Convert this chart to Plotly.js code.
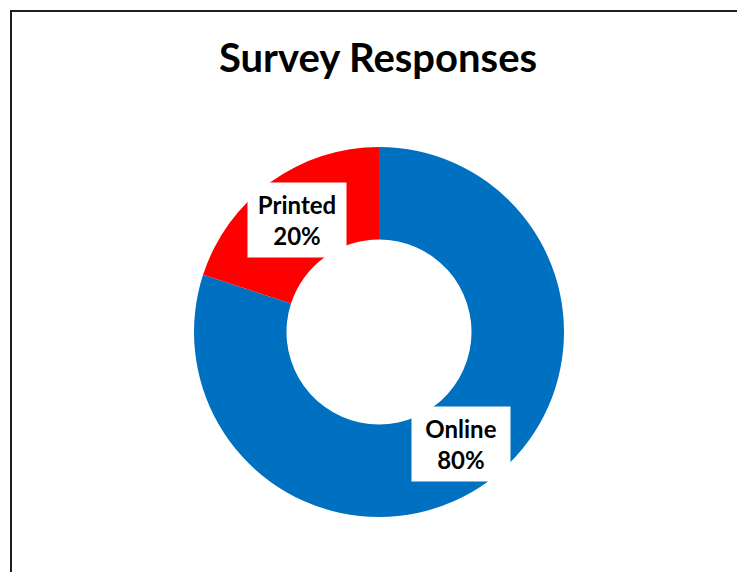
<!DOCTYPE html>
<html>
<head>
<meta charset="utf-8">
<script src="https://cdn.plot.ly/plotly-3.0.1.min.js"></script>
<style>
html,body{margin:0;padding:0;overflow:hidden;background:#fff;}
#chart{position:absolute;left:0;top:0;width:737px;height:572px;}
#frame{position:absolute;left:10px;top:10px;width:900px;height:800px;border:2px solid #1e1e1e;pointer-events:none;}
</style>
</head>
<body>
<div id="chart"></div>
<div id="frame"></div>
<script>
const categories = ["Online", "Printed"];
const values = [80, 20];
const colors = ["#0070C0", "#FF0000"];
const chartTitle = "Survey Responses";

const W = 737, H = 572;
const cx = 379, cy = 332, R = 185, hole = 0.5;

const total = values.reduce((a, b) => a + b, 0);
let cum = 0;
const annotations = categories.map((c, i) => {
  const frac = values[i] / total;
  const mid = (cum + frac / 2) * 2 * Math.PI; // clockwise from 12 o'clock
  cum += frac;
  const r = R * (1 + hole) / 2;
  const px = cx + r * Math.sin(mid);
  const py = cy - r * Math.cos(mid);
  return {
    xref: "paper", yref: "paper",
    x: px / W, y: 1 - py / H,
    xanchor: "center", yanchor: "middle",
    text: "<b>" + c + "</b><br><b>" + Math.round(frac * 100) + "%</b>",
    showarrow: false,
    bgcolor: "#ffffff",
    width: 96, height: 72, borderpad: 1,
    font: {family: "Lato, 'Open Sans', sans-serif", size: 24, color: "#000"}
  };
});

const data = [{
  type: "pie",
  labels: categories,
  values: values,
  hole: hole,
  sort: false,
  direction: "clockwise",
  rotation: 0,
  marker: {colors: colors, line: {width: 0}},
  textinfo: "none",
  hoverinfo: "label+percent",
  showlegend: false,
  domain: {x: [(cx - R) / W, (cx + R) / W], y: [1 - (cy + R) / H, 1 - (cy - R) / H]}
}];

const layout = {
  width: W, height: H,
  margin: {l: 0, r: 0, t: 0, b: 0},
  paper_bgcolor: "#ffffff",
  title: {
    text: "<b>" + chartTitle + "</b>",
    x: 378 / W, xanchor: "center",
    y: 1 - 58 / H, yanchor: "middle",
    xref: "paper", yref: "paper",
    font: {family: "Lato, 'Open Sans', sans-serif", size: 40, color: "#000"}
  },
  annotations: annotations,
  showlegend: false
};

Plotly.newPlot("chart", data, layout, {staticPlot: true});
</script>
</body>
</html>
